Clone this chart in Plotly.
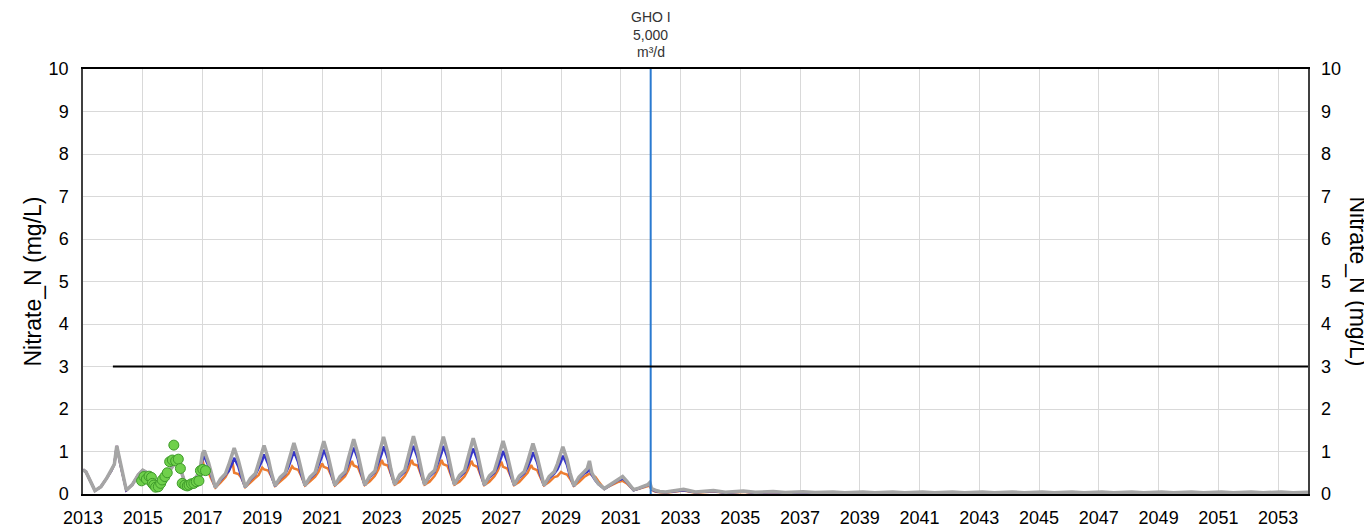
import plotly.graph_objects as go

# ---- data (decimal years, Nitrate_N in mg/L) ----
year_ticks = [2013, 2015, 2017, 2019, 2021, 2023, 2025, 2027, 2029, 2031, 2033,
              2035, 2037, 2039, 2041, 2043, 2045, 2047, 2049, 2051, 2053]

# calibration run, shared by all three scenarios
calib_t = [2013.00, 2013.10, 2013.40, 2013.60, 2013.80, 2013.95, 2014.05, 2014.13,
           2014.25, 2014.45, 2014.65, 2014.85, 2015.00, 2015.10, 2015.40, 2015.60,
           2015.80, 2015.95, 2016.05, 2016.15, 2016.28, 2016.45, 2016.65, 2016.80,
           2016.92]
calib_n = [0.57, 0.52, 0.08, 0.17, 0.38, 0.55, 0.70, 1.13,
           0.70, 0.09, 0.22, 0.45, 0.56, 0.52, 0.15, 0.25,
           0.45, 0.62, 0.70, 0.72, 0.55, 0.18, 0.28, 0.40,
           0.60]

# scenario runs 2017-2032
sim_t = [
    2017.00, 2017.06, 2017.20, 2017.30, 2017.43, 2017.60, 2017.77, 2017.88,
    2018.00, 2018.06, 2018.20, 2018.30, 2018.43, 2018.60, 2018.77, 2018.88,
    2019.00, 2019.06, 2019.20, 2019.30, 2019.43, 2019.60, 2019.77, 2019.88,
    2020.00, 2020.06, 2020.20, 2020.30, 2020.43, 2020.60, 2020.77, 2020.88,
    2021.00, 2021.06, 2021.20, 2021.30, 2021.43, 2021.60, 2021.77, 2021.88,
    2022.00, 2022.06, 2022.20, 2022.30, 2022.43, 2022.60, 2022.77, 2022.88,
    2023.00, 2023.06, 2023.20, 2023.30, 2023.43, 2023.60, 2023.77, 2023.88,
    2024.00, 2024.06, 2024.20, 2024.30, 2024.43, 2024.60, 2024.77, 2024.88,
    2025.00, 2025.06, 2025.20, 2025.30, 2025.43, 2025.60, 2025.77, 2025.88,
    2026.00, 2026.06, 2026.20, 2026.30, 2026.43, 2026.60, 2026.77, 2026.88,
    2027.00, 2027.06, 2027.20, 2027.30, 2027.43, 2027.60, 2027.77, 2027.88,
    2028.00, 2028.06, 2028.20, 2028.30, 2028.43, 2028.60, 2028.77, 2028.88,
    2029.00, 2029.06, 2029.20, 2029.30, 2029.43, 2029.60, 2029.77, 2029.88,
    2029.95, 2030.03, 2030.15, 2030.25, 2030.45, 2030.60, 2030.77, 2030.90,
    2031.00, 2031.06, 2031.20, 2031.30, 2031.43, 2031.60, 2031.77, 2031.90,
    2031.97, 2032.03, 2032.15, 2032.30,
]
sim_gray = [
    0.95, 1.02, 0.74, 0.46, 0.15, 0.35, 0.48, 0.69,
    0.95, 1.08, 0.79, 0.49, 0.16, 0.36, 0.48, 0.73,
    1.00, 1.14, 0.83, 0.51, 0.19, 0.39, 0.50, 0.77,
    1.06, 1.20, 0.88, 0.54, 0.20, 0.40, 0.51, 0.79,
    1.09, 1.24, 0.91, 0.56, 0.20, 0.41, 0.52, 0.83,
    1.13, 1.29, 0.94, 0.58, 0.21, 0.43, 0.54, 0.86,
    1.18, 1.34, 0.98, 0.60, 0.22, 0.45, 0.56, 0.87,
    1.20, 1.36, 0.99, 0.61, 0.22, 0.45, 0.56, 0.86,
    1.19, 1.35, 0.99, 0.61, 0.22, 0.44, 0.55, 0.84,
    1.15, 1.31, 0.96, 0.59, 0.21, 0.43, 0.54, 0.80,
    1.10, 1.25, 0.91, 0.56, 0.21, 0.42, 0.53, 0.76,
    1.05, 1.19, 0.87, 0.54, 0.20, 0.41, 0.52, 0.71,
    0.98, 1.11, 0.81, 0.50, 0.19, 0.40, 0.52, 0.60,
    0.78, 0.50, 0.34, 0.24, 0.13, 0.20, 0.28, 0.34,
    0.38, 0.41, 0.30, 0.20, 0.10, 0.14, 0.18, 0.22,
    0.27, 0.13, 0.09, 0.06,
]
sim_blue = [
    0.80, 0.88, 0.66, 0.41, 0.15, 0.32, 0.44, 0.54,
    0.72, 0.85, 0.64, 0.40, 0.16, 0.33, 0.45, 0.60,
    0.79, 0.93, 0.70, 0.43, 0.19, 0.36, 0.47, 0.64,
    0.85, 1.00, 0.75, 0.46, 0.20, 0.37, 0.48, 0.67,
    0.88, 1.04, 0.78, 0.48, 0.20, 0.38, 0.49, 0.70,
    0.93, 1.09, 0.82, 0.50, 0.21, 0.40, 0.51, 0.72,
    0.95, 1.12, 0.84, 0.51, 0.22, 0.41, 0.52, 0.72,
    0.96, 1.13, 0.85, 0.52, 0.22, 0.41, 0.52, 0.72,
    0.96, 1.13, 0.85, 0.52, 0.22, 0.40, 0.51, 0.68,
    0.91, 1.07, 0.80, 0.49, 0.21, 0.39, 0.50, 0.65,
    0.86, 1.01, 0.76, 0.47, 0.21, 0.38, 0.49, 0.63,
    0.83, 0.98, 0.74, 0.46, 0.20, 0.37, 0.48, 0.58,
    0.77, 0.90, 0.68, 0.42, 0.19, 0.37, 0.48, 0.52,
    0.60, 0.45, 0.32, 0.23, 0.12, 0.19, 0.26, 0.32,
    0.34, 0.37, 0.28, 0.19, 0.09, 0.13, 0.17, 0.20,
    0.23, 0.11, 0.07, 0.05,
]
sim_orange = [
    0.80, 0.62, 0.50, 0.35, 0.15, 0.27, 0.40, 0.55,
    0.78, 0.50, 0.47, 0.38, 0.16, 0.27, 0.38, 0.45,
    0.62, 0.58, 0.55, 0.42, 0.19, 0.29, 0.40, 0.48,
    0.65, 0.60, 0.57, 0.43, 0.20, 0.30, 0.41, 0.52,
    0.72, 0.64, 0.60, 0.45, 0.20, 0.30, 0.42, 0.56,
    0.78, 0.67, 0.63, 0.46, 0.21, 0.30, 0.43, 0.57,
    0.80, 0.70, 0.67, 0.48, 0.22, 0.29, 0.43, 0.57,
    0.80, 0.70, 0.67, 0.48, 0.22, 0.29, 0.43, 0.57,
    0.80, 0.70, 0.66, 0.47, 0.22, 0.29, 0.42, 0.56,
    0.78, 0.68, 0.64, 0.46, 0.21, 0.29, 0.42, 0.55,
    0.76, 0.64, 0.60, 0.44, 0.21, 0.28, 0.41, 0.50,
    0.68, 0.60, 0.56, 0.42, 0.20, 0.28, 0.40, 0.42,
    0.52, 0.49, 0.46, 0.36, 0.19, 0.28, 0.40, 0.45,
    0.48, 0.45, 0.40, 0.30, 0.12, 0.18, 0.24, 0.28,
    0.30, 0.31, 0.25, 0.18, 0.09, 0.12, 0.15, 0.18,
    0.20, 0.10, 0.06, 0.04,
]

# after GHO I starts
post_t = [2032.5, 2033.1, 2033.5, 2034.1, 2034.5, 2035.1, 2035.5, 2036.1, 2036.5,
          2037.1, 2037.5, 2038.1, 2038.5, 2039.1, 2039.5, 2040.1, 2040.5, 2041.1,
          2041.5, 2042.1, 2042.5, 2043.1, 2043.5, 2044.1, 2044.5, 2045.1, 2045.5,
          2046.1, 2046.5, 2047.1, 2047.5, 2048.1, 2048.5, 2049.1, 2049.5, 2050.1,
          2050.5, 2051.1, 2051.5, 2052.1, 2052.5, 2053.1, 2053.5, 2054.0]
post_gray = [0.05, 0.11, 0.05, 0.08, 0.04, 0.07, 0.04, 0.06, 0.035,
             0.055, 0.035, 0.05, 0.03, 0.05, 0.03, 0.05, 0.03, 0.05,
             0.03, 0.05, 0.03, 0.05, 0.03, 0.05, 0.03, 0.05, 0.03,
             0.05, 0.03, 0.05, 0.03, 0.05, 0.03, 0.05, 0.03, 0.05,
             0.03, 0.05, 0.03, 0.05, 0.03, 0.05, 0.03, 0.04]
post_blue = [0.04, 0.09, 0.04, 0.07, 0.03, 0.06, 0.03, 0.05, 0.025,
             0.04, 0.025, 0.04, 0.02, 0.04, 0.02, 0.04, 0.02, 0.04,
             0.02, 0.04, 0.02, 0.04, 0.02, 0.04, 0.02, 0.04, 0.02,
             0.04, 0.02, 0.04, 0.02, 0.04, 0.02, 0.04, 0.02, 0.04,
             0.02, 0.04, 0.02, 0.04, 0.02, 0.04, 0.02, 0.03]
post_orange = [0.03, 0.08, 0.03, 0.06, 0.03, 0.05, 0.02, 0.04, 0.02,
               0.035, 0.02, 0.03, 0.02, 0.03, 0.02, 0.03, 0.02, 0.03,
               0.02, 0.03, 0.02, 0.03, 0.02, 0.03, 0.02, 0.03, 0.02,
               0.03, 0.02, 0.03, 0.02, 0.03, 0.02, 0.03, 0.02, 0.03,
               0.02, 0.03, 0.02, 0.03, 0.02, 0.03, 0.02, 0.02]

# observed well samples
obs_t = [2014.96, 2015.04, 2015.12, 2015.21, 2015.29, 2015.32, 2015.37, 2015.43,
         2015.52, 2015.60, 2015.65, 2015.74, 2015.82, 2015.90, 2015.99, 2016.04,
         2016.10, 2016.19, 2016.26, 2016.32, 2016.41, 2016.49, 2016.55, 2016.63,
         2016.71, 2016.79, 2016.88, 2016.93, 2017.01, 2017.10]
obs_n = [0.31, 0.41, 0.35, 0.42, 0.39, 0.25, 0.21, 0.16,
         0.17, 0.25, 0.33, 0.41, 0.50, 0.76, 0.80, 1.15,
         0.78, 0.82, 0.60, 0.25, 0.21, 0.19, 0.21, 0.24,
         0.25, 0.29, 0.31, 0.55, 0.58, 0.55]

limit_t = [2014.0, 2054.0]
limit_n = [3.0, 3.0]
gho_year = 2032.0
gho_label = ["GHO I", "5,000", "m³/d"]

FONT = "Liberation Sans, Arial, sans-serif"

fig = go.Figure()

series = [
    (sim_orange, post_orange, '#ED7D31', 2.5),
    (sim_blue, post_blue, '#3535C8', 2.5),
    (sim_gray, post_gray, '#A5A5A5', 3.5),
]
for sim_vals, post_vals, color, width in series:
    fig.add_trace(go.Scatter(
        x=calib_t + sim_t + post_t,
        y=calib_n + sim_vals + post_vals,
        mode='lines',
        line=dict(color=color, width=width),
        showlegend=False,
    ))

fig.add_trace(go.Scatter(
    x=obs_t, y=obs_n, mode='markers',
    marker=dict(size=10, color='#6FD04B', line=dict(color='#3E9A2A', width=1)),
    showlegend=False,
))

# drinking water limit line (drawn on the right axis so that axis shows)
fig.add_trace(go.Scatter(
    x=limit_t, y=limit_n, mode='lines',
    line=dict(color='black', width=2),
    yaxis='y2', showlegend=False,
))

# GHO I start
fig.add_trace(go.Scatter(
    x=[gho_year, gho_year], y=[0, 10], mode='lines',
    line=dict(color='#2A7AD0', width=2),
    showlegend=False,
))

axis_font = dict(family=FONT, size=18, color='black')

annotations = [
    dict(text="Nitrate_N (mg/L)", xref='paper', yref='paper',
         x=(32 - 83) / 1225, y=0.5, xanchor='center', yanchor='middle',
         textangle=-90, showarrow=False,
         font=dict(family=FONT, size=23, color='black')),
    dict(text="Nitrate_N (mg/L)", xref='paper', yref='paper',
         x=(1358 - 83) / 1225, y=0.5, xanchor='center', yanchor='middle',
         textangle=90, showarrow=False,
         font=dict(family=FONT, size=23, color='black')),
]
for line, shift in zip(gho_label, [52, 34, 17]):
    annotations.append(dict(
        text=line, xref='x', yref='paper', x=gho_year, y=1,
        xanchor='center', yanchor='middle', yshift=shift, showarrow=False,
        font=dict(family=FONT, size=14, color='#333333'),
    ))

fig.update_layout(
    width=1372,
    height=531,
    margin=dict(l=75, r=72, t=61, b=45),
    plot_bgcolor='white',
    paper_bgcolor='white',
    font=dict(family=FONT, size=18, color='black'),
    showlegend=False,
    xaxis=dict(range=[2013, 2054],
               tickvals=year_ticks,
               ticktext=[str(y) for y in year_ticks],
               tickfont=axis_font,
               showgrid=True,
               gridcolor='#D9D9D9',
               gridwidth=1,
               zeroline=False,
               showline=True,
               linecolor='black',
               linewidth=1.5,
               mirror=True,
               ticks='',
               ticklabelstandoff=7,
               automargin=False,
               ),
    yaxis=dict(range=[0, 10],
               dtick=1,
               tickfont=axis_font,
               showgrid=True,
               gridcolor='#D9D9D9',
               gridwidth=1,
               zeroline=False,
               showline=True,
               linecolor='#404040',
               linewidth=1.5,
               mirror=True,
               ticks='',
               ticklabelstandoff=9,
               automargin=False,
               ),
    yaxis2=dict(range=[0, 10],
                dtick=1,
                overlaying='y',
                side='right',
                tickfont=axis_font,
                showgrid=False,
                zeroline=False,
                ticks='',
                ticklabelstandoff=12,
                automargin=False,
                ),
    annotations=annotations,
)

fig.write_html("out.html")
